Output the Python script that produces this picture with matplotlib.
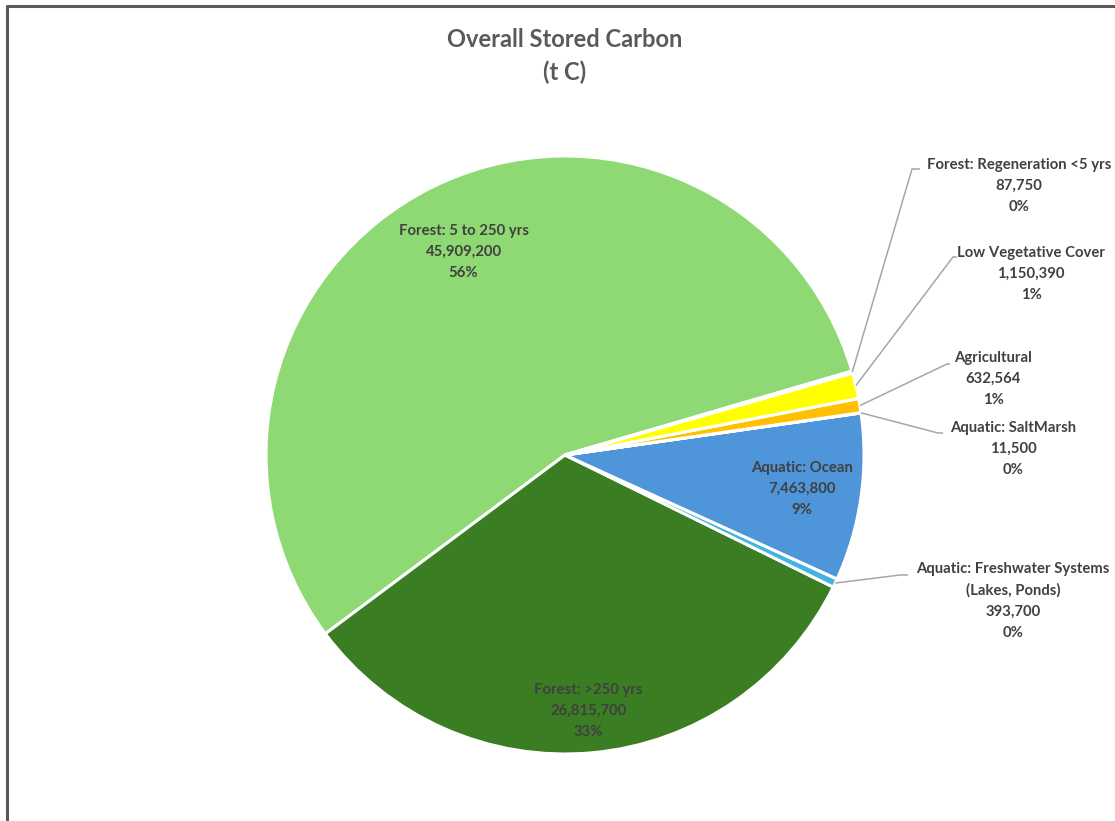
import numpy as np
import matplotlib.pyplot as plt

plt.rcParams['font.family'] = ['Lato', 'DejaVu Sans']

categories = ['Forest: 5 to 250 yrs', 'Forest: >250 yrs',
              'Aquatic: Freshwater Systems\n(Lakes, Ponds)', 'Aquatic: Ocean',
              'Aquatic: SaltMarsh', 'Agricultural', 'Low Vegetative Cover',
              'Forest: Regeneration <5 yrs']
stored_carbon = [45909200, 26815700, 393700, 7463800, 11500, 632564, 1150390, 87750]
slice_colors = ['#8ED973', '#3B7D23', '#44B3E1', '#4E95D9',
                '#A02B93', '#FFC000', '#FFFF00', '#BFE8A8']

W, H = 1115, 821
cx, cy, r = 565, 455, 299
text_col = '#404040'


def py(y):
    # image pixel row -> axes y
    return H - y


def main():
    fig = plt.figure(figsize=(W / 100, H / 100), dpi=100)
    ax = fig.add_axes([0, 0, 1, 1])
    vals = np.array(stored_carbon, dtype=float)
    frac = vals / vals.sum()
    start = 16.3
    wedges, _ = ax.pie(vals, colors=slice_colors, startangle=start, counterclock=True,
                       center=(cx, py(cy)), radius=r,
                       wedgeprops=dict(edgecolor='white', linewidth=2.2))
    ax.set_xlim(0, W)
    ax.set_ylim(0, H)
    ax.set_aspect('auto')
    ax.axis('off')

    def label(i):
        return '%s\n%s\n%d%%' % (categories[i], format(int(vals[i]), ','),
                                 int(round(frac[i] * 100)))

    # labels inside the big slices
    inside = {0: 0.76, 1: 0.86, 3: 0.80}
    for i, d in inside.items():
        w = wedges[i]
        mid = np.deg2rad((w.theta1 + w.theta2) / 2)
        x = cx + d * r * np.cos(mid)
        y = py(cy) + d * r * np.sin(mid)
        ax.text(x, y, label(i), ha='center', va='center', fontsize=10.7,
                fontweight='bold', color=text_col, linespacing=1.64)

    # labels outside with leader lines: (text centre, line end, short tail end)
    outside = {
        7: ((1019, 186), (912, 169), (920, 169)),
        6: ((1031, 274), (953, 257), (957, 257)),
        5: ((993, 379), (947, 364), (950, 364)),
        4: ((1013, 449), (938, 433), (943, 433)),
        2: ((1013, 601), (900, 575), (908, 575)),
    }
    for i, (tpos, lend, tail) in outside.items():
        w = wedges[i]
        mid = np.deg2rad((w.theta1 + w.theta2) / 2)
        x0 = cx + r * np.cos(mid)
        y0 = py(cy) + r * np.sin(mid)
        ax.plot([x0, lend[0], tail[0]], [y0, py(lend[1]), py(tail[1])],
                color='#A6A6A6', lw=1.1, solid_capstyle='butt')
        ax.text(tpos[0], py(tpos[1]), label(i), ha='center', va='center', fontsize=10.7,
                fontweight='bold', color=text_col, linespacing=1.64)

    ax.text(565, py(56), 'Overall Stored Carbon\n(t C)', ha='center', va='center',
            fontsize=17, fontweight='bold', color='#595959', linespacing=1.45)

    # chart area border (only left and top visible)
    ax.plot([7, 7, W + 5], [-5, py(6), py(6)], color='#595959', lw=2.2, clip_on=False)

    fig.savefig('out.png', dpi=100)


if __name__ == '__main__':
    main()
